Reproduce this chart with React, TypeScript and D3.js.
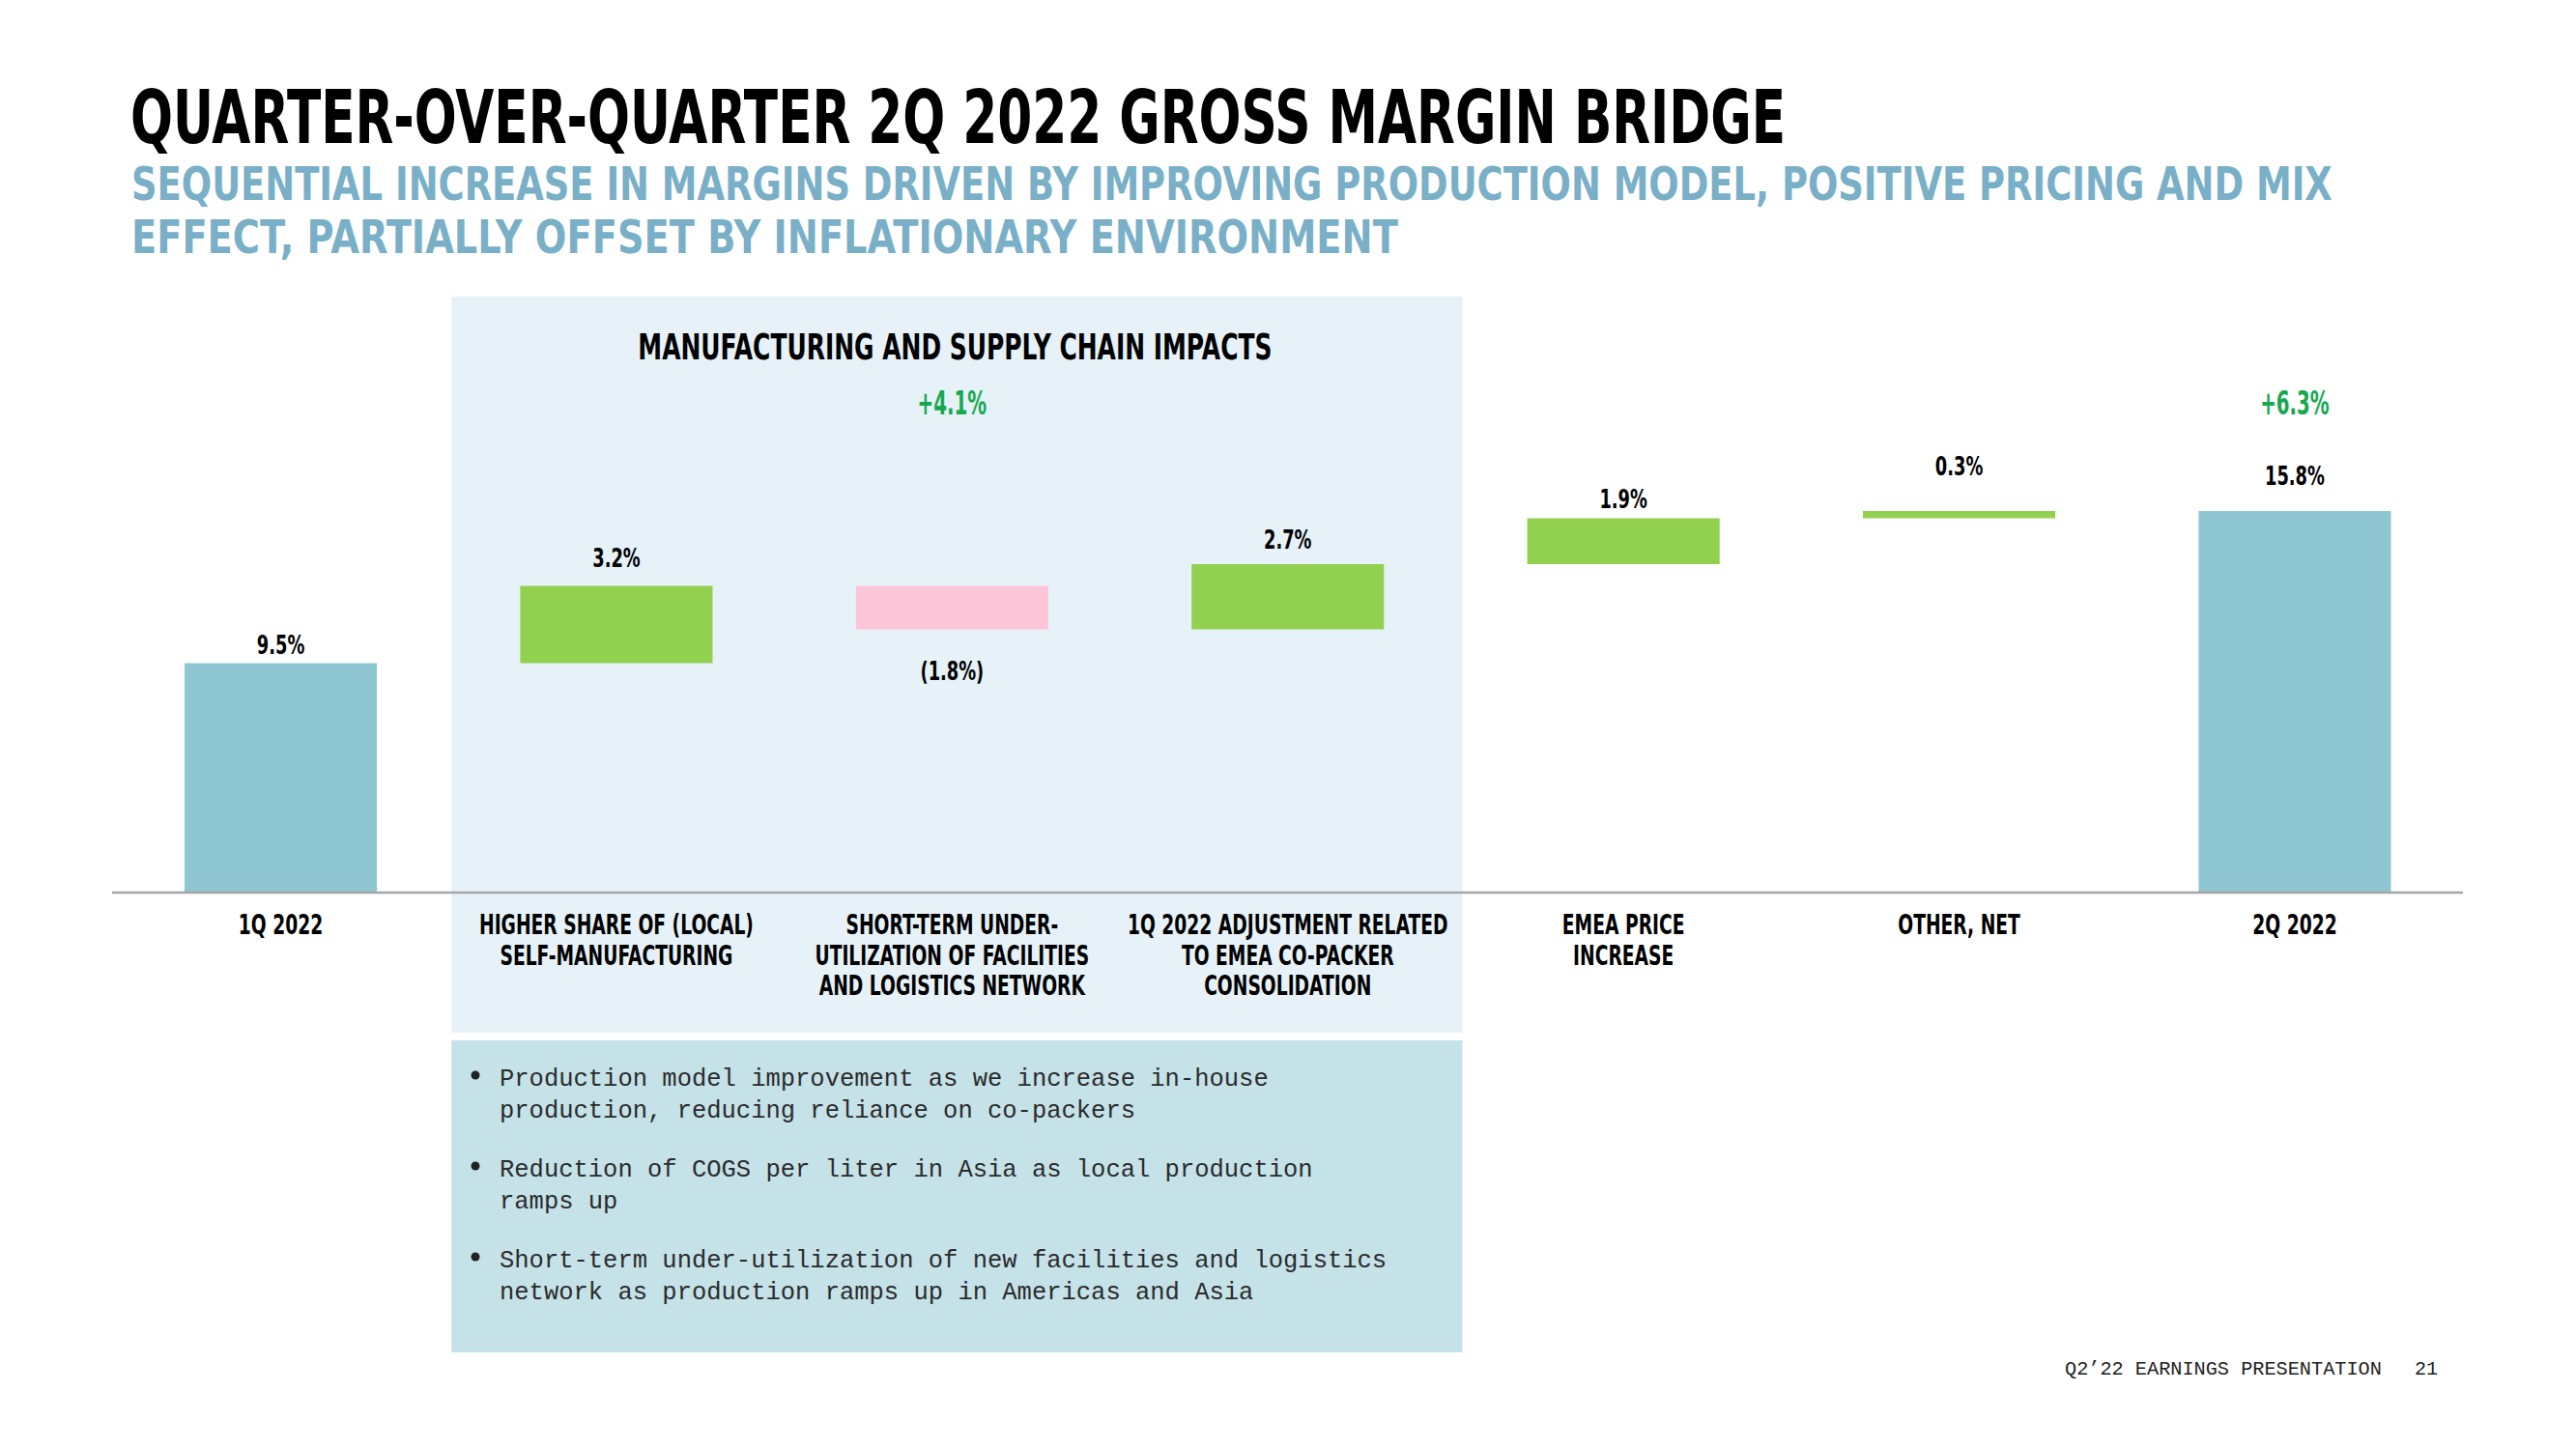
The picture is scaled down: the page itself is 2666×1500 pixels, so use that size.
import React, { useLayoutEffect, useRef, useState } from "react";
import * as d3 from "d3";

// ---------- data ----------
const categories: string[] = [
  "1Q 2022",
  "HIGHER SHARE OF (LOCAL)\nSELF-MANUFACTURING",
  "SHORT-TERM UNDER-\nUTILIZATION OF FACILITIES\nAND LOGISTICS NETWORK",
  "1Q 2022 ADJUSTMENT RELATED\nTO EMEA CO-PACKER\nCONSOLIDATION",
  "EMEA PRICE\nINCREASE",
  "OTHER, NET",
  "2Q 2022",
];
const values: number[] = [9.5, 3.2, -1.8, 2.7, 1.9, 0.3, 15.8];
const kinds: string[] = ["total", "delta", "delta", "delta", "delta", "delta", "total"];
const valueLabels: string[] = ["9.5%", "3.2%", "(1.8%)", "2.7%", "1.9%", "0.3%", "15.8%"];
const groupTitle = "MANUFACTURING AND SUPPLY CHAIN IMPACTS";
const groupTotal = "+4.1%";
const overallTotal = "+6.3%";
const title = "QUARTER-OVER-QUARTER 2Q 2022 GROSS MARGIN BRIDGE";
const subtitleLines: string[] = [
  "SEQUENTIAL INCREASE IN MARGINS DRIVEN BY IMPROVING PRODUCTION MODEL, POSITIVE PRICING AND MIX",
  "EFFECT, PARTIALLY OFFSET BY INFLATIONARY ENVIRONMENT",
];
const bullets: string[][] = [
  ["Production model improvement as we increase in-house", "production, reducing reliance on co-packers"],
  ["Reduction of COGS per liter in Asia as local production", "ramps up"],
  ["Short-term under-utilization of new facilities and logistics", "network as production ramps up in Americas and Asia"],
];
const footer = "Q2\u201922 EARNINGS PRESENTATION";
const pageNumber = "21";

// ---------- styling (not data) ----------
const labelDy: number[] = [-10, -20, 52, -16, -11, -37, -27];
const DISPLAY = "'DejaVu Sans', 'Liberation Sans', sans-serif";
const MONO = "'Liberation Mono', 'DejaVu Sans Mono', monospace";
const C_TOTAL = "#8ec6d3";
const C_UP = "#92d050";
const C_DOWN = "#fcc5d8";
const C_GREEN_TXT = "#16a84f";
const C_SUB = "#79afc7";

function CondText(props: {
  x: number; y: number; text: string; size: number; sx: number; fill?: string; anchor?: string;
}) {
  const { x, y, text, size, sx, fill = "#000", anchor = "middle" } = props;
  return (
    <text
      transform={`translate(${x},${y}) scale(${sx},1)`}
      textAnchor={anchor as any}
      fontFamily={DISPLAY}
      fontWeight={700}
      fontSize={size}
      fill={fill}
    >
      {text}
    </text>
  );
}

// Text squeezed horizontally (by a scale transform) to a target width, measured at runtime.
function FitText(props: {
  x: number; y: number; text: string; size: number; width: number; fill?: string;
  family?: string; weight?: number;
}) {
  const { x, y, text, size, width, fill = "#000", family = DISPLAY, weight = 700 } = props;
  const ref = useRef<SVGTextElement | null>(null);
  const [sx, setSx] = useState(0.65);
  useLayoutEffect(() => {
    if (ref.current) {
      const natural = ref.current.getComputedTextLength();
      if (natural > 0) setSx(width / natural);
    }
  }, [text, size, width]);
  return (
    <text
      ref={ref}
      transform={`translate(${x},${y}) scale(${sx},1)`}
      fontFamily={family}
      fontWeight={weight}
      fontSize={size}
      fill={fill}
    >
      {text}
    </text>
  );
}

export default function App() {
  const W = 2666;
  const H = 1500;

  const x = d3
    .scaleBand<string>()
    .domain(categories)
    .range([116.5, 2549])
    .paddingInner(0.427)
    .paddingOuter(0.2145);
  const y = d3.scaleLinear().domain([0, 16]).range([924, 524]);

  // waterfall geometry from data
  let running = 0;
  const bars = categories.map((c, i) => {
    const v = values[i];
    let lo: number, hi: number;
    if (kinds[i] === "total") {
      lo = 0;
      hi = v;
      running = v;
    } else {
      const start = running;
      const end = running + v;
      lo = Math.min(start, end);
      hi = Math.max(start, end);
      running = end;
    }
    const color = kinds[i] === "total" ? C_TOTAL : v >= 0 ? C_UP : C_DOWN;
    return { c, i, v, lo, hi, color };
  });

  const cx = (c: string) => (x(c) as number) + x.bandwidth() / 2;
  const step = x.step();
  const shadeLeft = cx(categories[1]) - step / 2 + 3;
  const shadeRight = cx(categories[3]) + step / 2 + 7;

  return (
    <svg
      width={W}
      height={H}
      viewBox={`0 0 ${W} ${H}`}
      style={{ position: "absolute", left: 0, top: 0, display: "block", background: "#fff" }}
    >
      <rect x={0} y={0} width={W} height={H} fill="#fff" />

      {/* title */}
      <FitText x={135} y={148} text={title} size={77} width={1713} />
      {subtitleLines.map((s, i) => (
        <FitText
          key={i}
          x={136}
          y={207 + i * 55}
          text={s}
          size={48}
          width={i === 0 ? 2278 : 1311}
          fill={C_SUB}
        />
      ))}

      {/* shaded group panels */}
      <rect x={shadeLeft} y={307} width={shadeRight - shadeLeft} height={1069 - 307} fill="#e6f2f8" />
      <rect x={shadeLeft} y={1077} width={shadeRight - shadeLeft} height={1400 - 1077} fill="#c5e2e8" />

      {/* group title and subtotal */}
      <FitText x={(shadeLeft + shadeRight) / 2 - 330} y={372} text={groupTitle} size={37} width={656} />
      <CondText x={cx(categories[2])} y={429} text={groupTotal} size={33} sx={0.6} fill={C_GREEN_TXT} />
      <CondText x={cx(categories[6])} y={429} text={overallTotal} size={33} sx={0.6} fill={C_GREEN_TXT} />

      {/* bars */}
      {bars.map((b) => (
        <rect
          key={b.c}
          x={x(b.c)}
          y={y(b.hi)}
          width={x.bandwidth()}
          height={y(b.lo) - y(b.hi)}
          fill={b.color}
        />
      ))}

      {/* value labels */}
      {bars.map((b) => {
        const anchorY = b.v < 0 && kinds[b.i] === "delta" ? y(b.lo) : y(b.hi);
        return (
          <CondText
            key={"l" + b.c}
            x={cx(b.c)}
            y={anchorY + labelDy[b.i]}
            text={valueLabels[b.i]}
            size={27}
            sx={0.66}
          />
        );
      })}

      {/* axis line */}
      <line x1={116} x2={2549} y1={y(0)} y2={y(0)} stroke="#a6a6a6" strokeWidth={2.5} />

      {/* category labels */}
      {categories.map((c) =>
        c.split("\n").map((line, j) => (
          <CondText key={c + j} x={cx(c)} y={967 + j * 31.5} text={line} size={27.5} sx={0.68} />
        ))
      )}

      {/* bullets */}
      {bullets.map((lines, i) => (
        <g key={"b" + i}>
          <circle cx={492} cy={1113 + i * 94} r={4.5} fill="#222" />
          {lines.map((ln, j) => (
            <text
              key={j}
              x={517}
              y={1124 + i * 94 + j * 33}
              fontFamily={MONO}
              fontSize={25.5}
              fill="#2b2b2b"
            >
              {ln}
            </text>
          ))}
        </g>
      ))}

      {/* footer */}
      <FitText x={2137} y={1423} text={footer} size={20} width={328} family={MONO} weight={400} fill="#222" />
      <text x={2523} y={1423} textAnchor="end" fontFamily={MONO} fontSize={20} fill="#222">
        {pageNumber}
      </text>
    </svg>
  );
}
